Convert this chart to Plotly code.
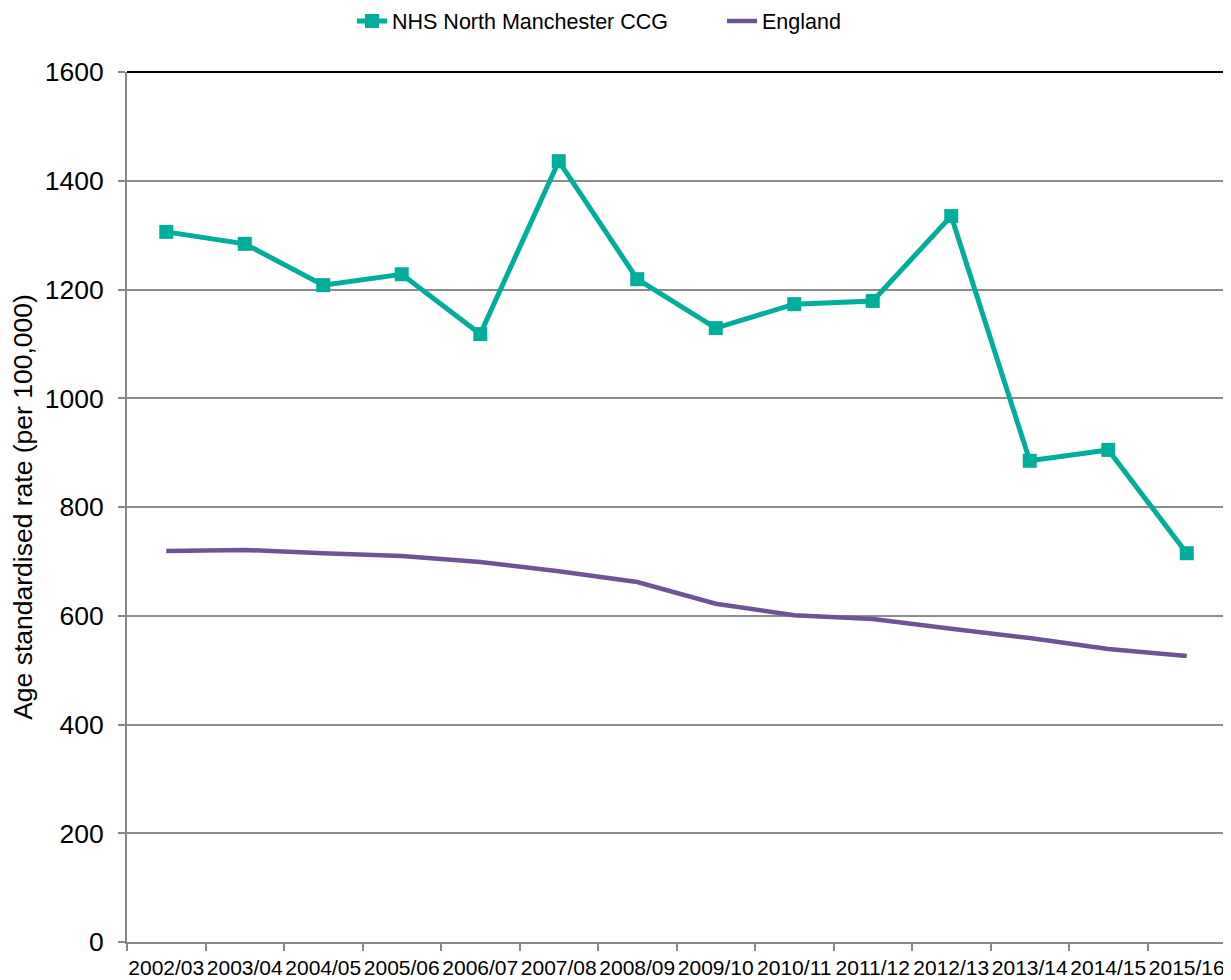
import plotly.graph_objects as go

years = ["2002/03", "2003/04", "2004/05", "2005/06", "2006/07", "2007/08", "2008/09",
         "2009/10", "2010/11", "2011/12", "2012/13", "2013/14", "2014/15", "2015/16"]
nhs_north_manchester = [1306, 1284, 1208, 1228, 1118, 1436, 1219, 1129, 1173, 1179, 1335, 885, 905, 715]
england = [719, 721, 715, 710, 699, 682, 662, 622, 601, 594, 576, 559, 539, 526]
y_ticks = [0, 200, 400, 600, 800, 1000, 1200, 1400, 1600]

TEAL = "#00AE9B"
PURPLE = "#6E5494"
FONT = "Liberation Sans, Arial, sans-serif"

W, H = 1223, 972

fig = go.Figure()
fig.add_trace(go.Scatter(
    x=years, y=nhs_north_manchester, name="NHS North Manchester CCG",
    mode="lines+markers",
    line=dict(color=TEAL, width=5),
    marker=dict(symbol="square", size=14, color=TEAL),
    legend="legend",
))
fig.add_trace(go.Scatter(
    x=years, y=england, name="England",
    mode="lines",
    line=dict(color=PURPLE, width=4.5),
    legend="legend2",
))

legend_common = dict(orientation="h", yanchor="middle", yref="container",
                     xref="container", xanchor="left", y=1 - 13 / H,
                     font=dict(size=21.5, family=FONT), bgcolor="rgba(0,0,0,0)")

fig.update_layout(
    width=W, height=H,
    margin=dict(l=119, r=5, t=64, b=38, autoexpand=False),
    paper_bgcolor="white", plot_bgcolor="white",
    font=dict(family=FONT, color="black"),
    showlegend=True,
    legend=dict(legend_common, x=(352 - 8) / W),
    legend2=dict(legend_common, x=(722 - 8) / W),
    xaxis=dict(
        type="category", tickmode="array", tickvals=years, ticktext=years,
        tickangle=0, tickson="boundaries", ticks="outside", ticklen=7,
        tickcolor="#888888", tickwidth=2, automargin=False,
        showline=True, linecolor="#888888", linewidth=2, ticklabelstandoff=6,
        showgrid=False, tickfont=dict(size=21, family=FONT, color="black"),
        range=[-0.5, len(years) - 0.5],
    ),
    yaxis=dict(
        range=[0, 1600], tickmode="array", tickvals=y_ticks,
        ticks="outside", ticklen=7, tickcolor="#888888", tickwidth=2,
        showline=True, linecolor="#888888", linewidth=2, automargin=False,
        showgrid=True, gridcolor="#8C8C8C", gridwidth=1.5, ticklabelstandoff=9,
        tickfont=dict(size=26.5, family=FONT, color="black"),
        title=dict(text="Age standardised rate (per 100,000)",
                   font=dict(size=26.5, family=FONT, color="black"), standoff=6),
        zeroline=False,
    ),
    shapes=[
        dict(type="line", xref="paper", yref="paper", x0=0, x1=1, y0=1, y1=1,
             line=dict(color="black", width=2)),
        dict(type="line", xref="paper", yref="paper", x0=1, x1=1, y0=0, y1=1,
             line=dict(color="black", width=2)),
    ],
)

fig.write_html("out.html")
